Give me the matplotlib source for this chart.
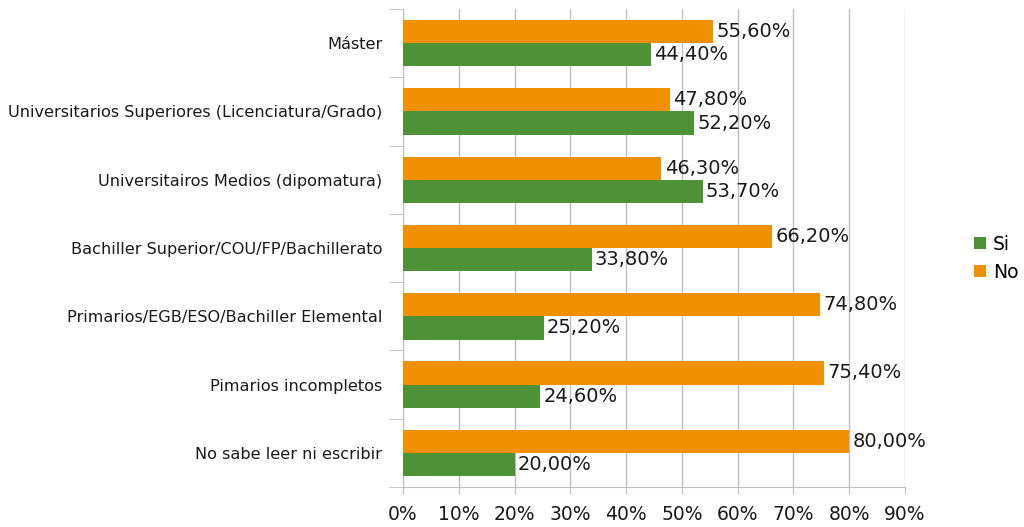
import numpy as np
import matplotlib
matplotlib.use('Agg')
import matplotlib.pyplot as plt

plt.rcParams['font.family'] = ['DejaVu Sans']

categorias = ['No sabe leer ni escribir', 'Pimarios incompletos',
              'Primarios/EGB/ESO/Bachiller Elemental',
              'Bachiller Superior/COU/FP/Bachillerato',
              'Universitairos Medios (dipomatura)',
              'Universitarios Superiores (Licenciatura/Grado)', 'Máster']
si = [20.0, 24.6, 25.2, 33.8, 53.7, 52.2, 44.4]
no = [80.0, 75.4, 74.8, 66.2, 46.3, 47.8, 55.6]
ticks_x = [0, 10, 20, 30, 40, 50, 60, 70, 80, 90]

verde = '#4E9136'
naranja = '#F29100'
gris = '#BFBFBF'
texto = '#1A1A1A'

fig = plt.figure(figsize=(10.24, 5.27), dpi=100)
ax = fig.add_axes([0.3936, 0.0759, 0.4902, 0.907])

y = np.arange(len(categorias))
h = 0.34
ax.barh(y - h / 2, si, height=h, color=verde, label='Si', zorder=3)
ax.barh(y + h / 2, no, height=h, color=naranja, label='No', zorder=3)

def fmt(v):
    return ('%.2f%%' % v).replace('.', ',')

for i in range(len(categorias)):
    ax.text(si[i] + 0.6, y[i] - h / 2, fmt(si[i]), va='center', ha='left',
            fontsize=14, color=texto)
    ax.text(no[i] + 0.6, y[i] + h / 2, fmt(no[i]), va='center', ha='left',
            fontsize=14, color=texto)

ax.set_xlim(0, 90)
ax.set_ylim(-0.5, len(categorias) - 0.5)
ax.set_xticks(ticks_x)
ax.set_xticklabels(['%d%%' % t for t in ticks_x], fontsize=13.5, color=texto)
ax.set_yticks(y)
ax.set_yticklabels(categorias, fontsize=11.6, color=texto)
ax.set_yticks(np.arange(len(categorias) + 1) - 0.5, minor=True)

ax.grid(axis='x', color=gris, lw=1, zorder=0)
for s in ['top', 'right']:
    ax.spines[s].set_visible(False)
ax.spines['left'].set_color(gris)
ax.spines['bottom'].set_color(gris)
ax.tick_params(axis='y', which='major', length=0, pad=15)
ax.tick_params(axis='y', which='minor', length=10, color=gris)
ax.tick_params(axis='x', length=5, color=gris, pad=8)

handles, labels = ax.get_legend_handles_labels()
fig.legend(handles, labels, loc='center left', bbox_to_anchor=(0.935, 0.51),
           frameon=False, fontsize=13.5, handlelength=0.6, handleheight=0.6,
           handletextpad=0.4, labelspacing=0.5)

fig.savefig('out.png', dpi=100)
